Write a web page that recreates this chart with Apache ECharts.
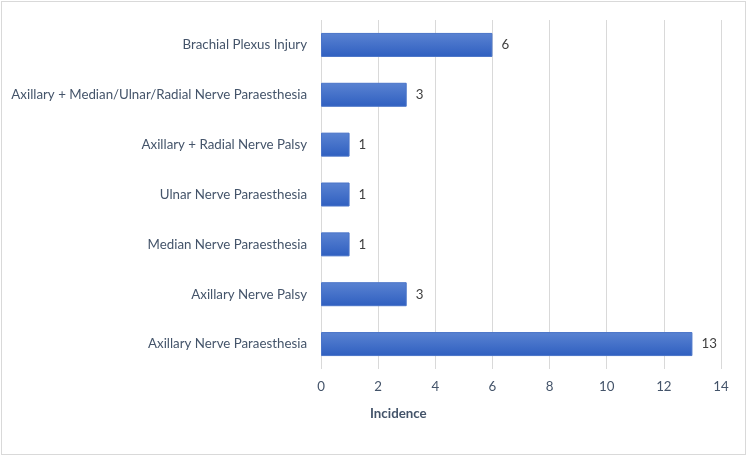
<!DOCTYPE html>
<html>
<head>
<meta charset="utf-8">
<script src="https://cdn.jsdelivr.net/npm/echarts@6/dist/echarts.min.js"></script>
<style>
  html, body { margin: 0; padding: 0; background: #fff; }
  #frame { position: absolute; left: 1px; top: 1px; width: 745px; height: 454px; border: 1px solid #d9d9d9; box-sizing: border-box; }
  #chart { width: 750px; height: 459px; }
</style>
</head>
<body>
<div id="frame"></div>
<div id="chart"></div>
<script>
const categories = [
  "Axillary Nerve Paraesthesia",
  "Axillary Nerve Palsy",
  "Median Nerve Paraesthesia",
  "Ulnar Nerve Paraesthesia",
  "Axillary + Radial Nerve Palsy",
  "Axillary + Median/Ulnar/Radial Nerve Paraesthesia",
  "Brachial Plexus Injury"
];
const incidence = [13, 3, 1, 1, 1, 3, 6];

const textColor = "#44546a";
const chart = echarts.init(document.getElementById("chart"));
chart.setOption({
  animation: false,
  textStyle: { fontFamily: "Lato" },
  title: {
    text: "Incidence",
    left: 365,
    top: 402,
    textStyle: { fontSize: 13.3, fontWeight: "bold", color: textColor, fontFamily: "Lato" }
  },
  grid: { left: 321, right: 29, top: 20, bottom: 90, containLabel: false },
  xAxis: {
    type: "value",
    min: 0,
    max: 14,
    interval: 2,
    axisLine: { show: false },
    axisTick: { show: false },
    splitLine: { show: true, lineStyle: { color: "#d9d9d9", width: 1 } },
    axisLabel: { color: textColor, fontSize: 13.3, margin: 11 }
  },
  yAxis: {
    type: "category",
    data: categories,
    axisLine: { show: false },
    axisTick: { show: false },
    axisLabel: { color: textColor, fontSize: 13.3, margin: 14 }
  },
  series: [{
    type: "bar",
    data: incidence,
    barWidth: 24,
    itemStyle: {
      color: new echarts.graphic.LinearGradient(0, 0, 0, 1, [
        { offset: 0, color: "#5a83d2" },
        { offset: 1, color: "#2f5fc0" }
      ]),
      borderColor: "#4a74c8",
      borderWidth: 1
    },
    label: {
      show: true,
      position: "right",
      distance: 9,
      color: "#404040",
      fontSize: 13.3,
      fontFamily: "Lato"
    }
  }]
});
</script>
</body>
</html>
